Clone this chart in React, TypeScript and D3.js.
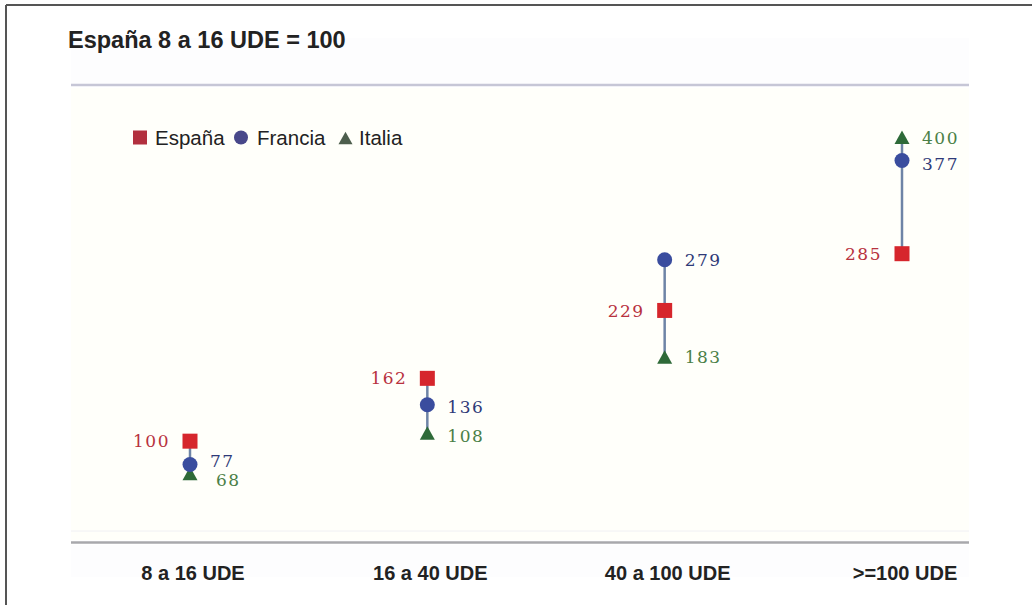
import React from "react";
import * as d3 from "d3";

const categories = ["8 a 16 UDE", "16 a 40 UDE", "40 a 100 UDE", ">=100 UDE"];
const espana = [100, 162, 229, 285];
const francia = [77, 136, 279, 377];
const italia = [68, 108, 183, 400];
const title = "España 8 a 16 UDE = 100";
const seriesNames = ["España", "Francia", "Italia"];

const W = 1032;
const H = 605;

export default function App() {
  const x = d3.scalePoint<string>().domain(categories).range([190, 902]);
  const y = d3.scaleLinear().domain([0, 450]).range([542.5, 86.5]);

  const red = "#d6262c";
  const blue = "#3a4d9e";
  const green = "#2e6a38";
  const redLbl = "#b8323e";
  const blueLbl = "#2f3a78";
  const greenLbl = "#4b7f47";

  const sq = 15;
  const tri = (cx: number, cy: number, s: number) => {
    const h = s * 0.9;
    return `M${cx},${cy - h / 2}L${cx + s / 2},${cy + h / 2}L${cx - s / 2},${cy + h / 2}Z`;
  };

  const labelFont = { fontFamily: "DejaVu Serif", fontSize: 17, letterSpacing: 1.5 };

  const frOff = [[20, -4], [20, 2], [20, 0], [20, 3]];
  const itOff = [[26, 6], [20, 3], [20, 0], [20, 1]];

  return (
    <svg width={W} height={H} style={{ position: "absolute", left: 0, top: 0, background: "#fff" }}>
      <line x1={6} y1={5} x2={W} y2={5} stroke="#555" strokeWidth={2} />
      <line x1={6} y1={5} x2={6} y2={H} stroke="#555" strokeWidth={2} />
      <rect x={71} y={38} width={898} height={47} fill="#fdfdfe" />
      <rect x={71} y={88} width={898} height={452} fill="#fffffa" />
      <rect x={71} y={545} width={898} height={32} fill="#fdfdfe" />
      <line x1={71} x2={969} y1={85} y2={85} stroke="#c6c6d6" strokeWidth={2.5} />
      <line x1={71} x2={969} y1={531} y2={531} stroke="#f0f0f4" strokeWidth={1} />
      <line x1={71} x2={969} y1={y(0)} y2={y(0)} stroke="#a8a8ac" strokeWidth={2.5} />
      <text x={68} y={48} fontFamily="Liberation Sans, Arial" fontWeight="bold" fontSize={23.5} fill="#222">{title}</text>
      {categories.map((c) => (
        <text key={c} x={(x(c) as number) + 3} y={580} textAnchor="middle" fontFamily="Liberation Sans, Arial" fontWeight="bold" fontSize={20} fill="#222">{c}</text>
      ))}
      <g fontFamily="Liberation Sans, Arial" fontSize={20.5} fill="#222">
        <rect x={133} y={130.5} width={14} height={14} fill="#b2303e" />
        <text x={155} y={145}>{seriesNames[0]}</text>
        <circle cx={241} cy={137.5} r={7} fill="#48488a" />
        <text x={257} y={145}>{seriesNames[1]}</text>
        <path d={tri(345.5, 138, 14)} fill="#4d5e4d" />
        <text x={359} y={145}>{seriesNames[2]}</text>
      </g>
      {categories.map((c, i) => {
        const vals = [espana[i], francia[i], italia[i]];
        return (
          <line key={"l" + c} x1={x(c)} x2={x(c)} y1={y(d3.min(vals) as number)} y2={y(d3.max(vals) as number)} stroke="#6e84a6" strokeWidth={2.5} />
        );
      })}
      {categories.map((c, i) => {
        const cx = x(c) as number;
        return (
          <g key={"m" + c}>
            <path d={tri(cx, y(italia[i]), 15)} fill={green} />
            <circle cx={cx} cy={y(francia[i])} r={7.5} fill={blue} />
            <rect x={cx - sq / 2} y={y(espana[i]) - sq / 2} width={sq} height={sq} fill={red} />
          </g>
        );
      })}
      {categories.map((c, i) => {
        const cx = x(c) as number;
        return (
          <g key={"t" + c} style={labelFont as any}>
            <text x={cx - 20} y={y(espana[i])} dy="0.36em" textAnchor="end" fill={redLbl}>{espana[i]}</text>
            <text x={cx + frOff[i][0]} y={y(francia[i]) + frOff[i][1]} dy="0.36em" fill={blueLbl}>{francia[i]}</text>
            <text x={cx + itOff[i][0]} y={y(italia[i]) + itOff[i][1]} dy="0.36em" fill={greenLbl}>{italia[i]}</text>
          </g>
        );
      })}
    </svg>
  );
}
